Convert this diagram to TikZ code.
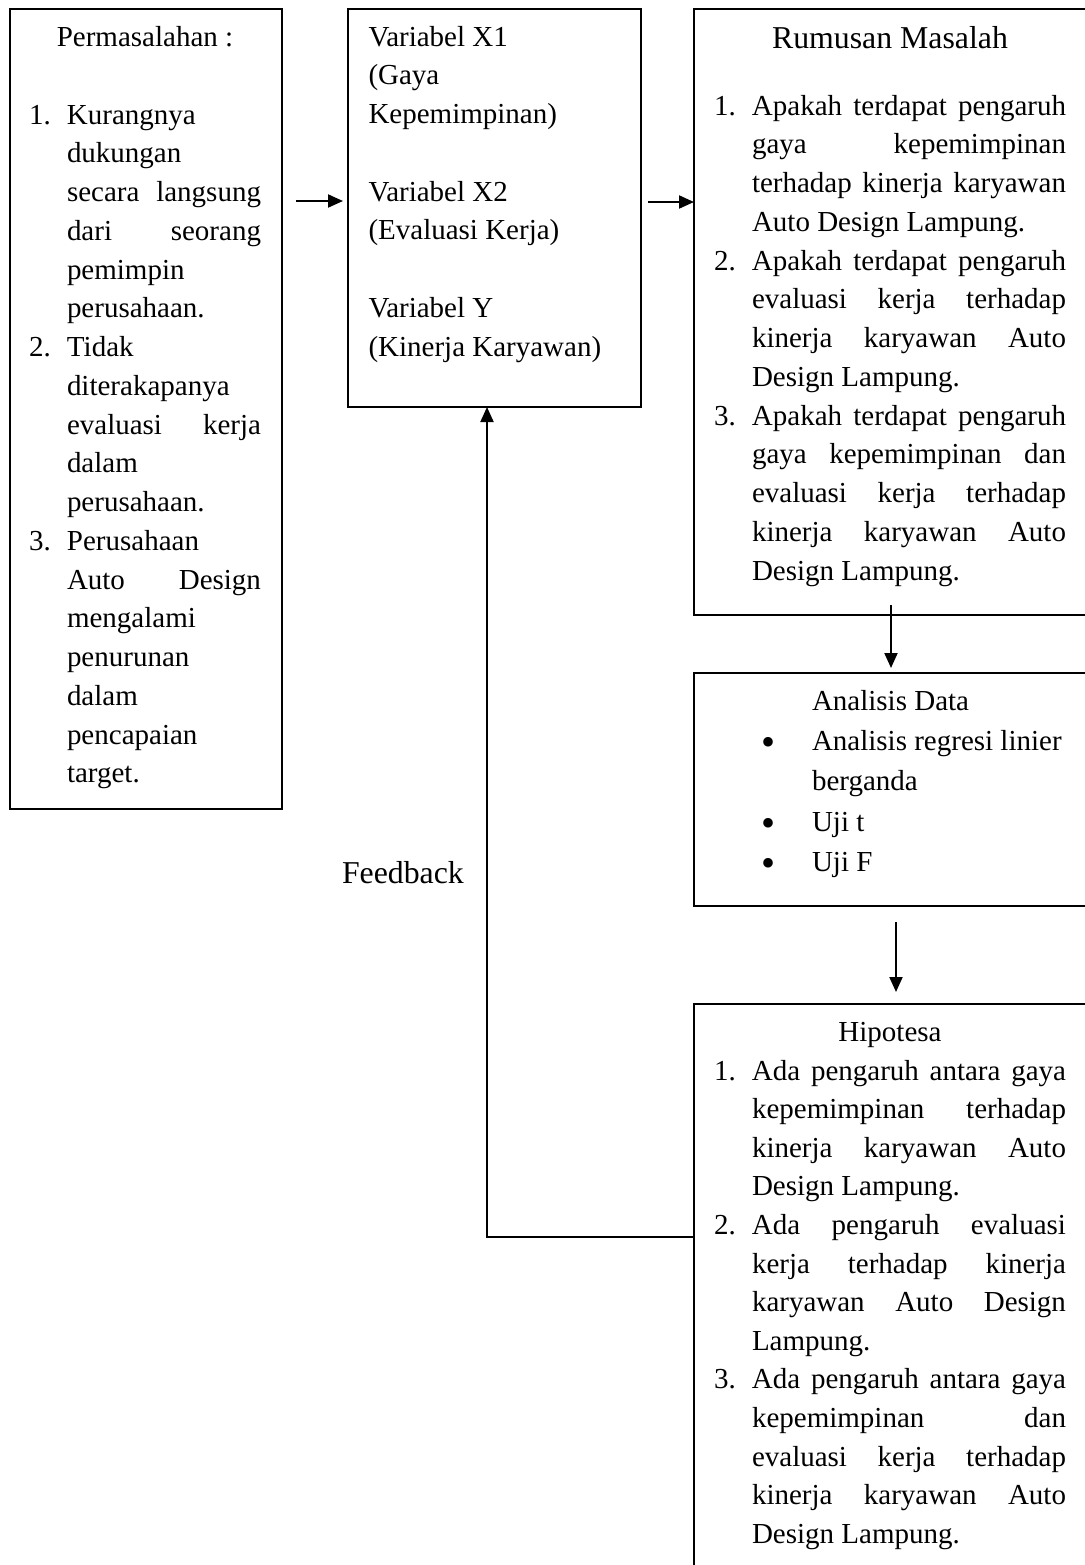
\documentclass[tikz,border=0pt]{standalone}
\usepackage{fontspec}
\setmainfont{Liberation Serif}
\usetikzlibrary{arrows.meta,fit}
\newlength\numw \setlength\numw{19pt}
\newlength\colw \setlength\colw{100pt}
\newcommand\fsz{\fontsize{14.5pt}{19.38pt}\selectfont}
\newcommand\fbig{\fontsize{15.9pt}{20pt}\selectfont}
\newcommand\setbs[1]{\baselineskip=#1\lineskiplimit=-\maxdimen\lineskip=0pt}
\newcommand\nm[1]{\llap{\hbox to \numw{#1\hss}}}
\newcommand\lft[1]{\hbox to \colw{#1\hfil}}
\newcommand\jst[1]{\hbox to \colw{#1}}
\newcommand\bul{\llap{\hbox to 44pt{\hss\raisebox{-2.5pt}{\fontsize{20pt}{20pt}\selectfont •}\hss}}}
\begin{document}
\begin{tikzpicture}[x=0.5pt,y=-0.5pt,
  box/.style={draw, line width=1pt, inner sep=0pt, outer sep=0pt},
  txt/.style={anchor=base west, inner sep=0pt, outer sep=0pt, font=\fsz},
  ttl/.style={anchor=base, inner sep=0pt, outer sep=0pt, font=\fsz},
  arr/.style={line width=1pt, -{Triangle[length=7.5pt,width=6.5pt]}}]
\useasboundingbox (0,0) rectangle (1085,1565);
\clip (0,0) rectangle (1085,1565);
\fill[white] (0,0) rectangle (1085,1565);

% boxes
\node[box, fit={(10,9)(282,809)}] (perm) {};
\node[box, fit={(348,9)(641,407)}] (var) {};
\node[box, fit={(694,9)(1100,615)}] (rum) {};
\node[box, fit={(694,673)(1100,906)}] (ana) {};
\node[box, fit={(694,1004)(1100,1620)}] (hip) {};

% Permasalahan
\node[ttl] (permT) at (145,46) {Permasalahan :};
\node[txt] (permL) at (67,124) {\setlength\colw{97pt}\vtop{\setbs{19.38pt}
  \lft{\nm{1.}Kurangnya}
  \lft{dukungan}
  \jst{secara\hfill langsung}
  \jst{dari\hfill seorang}
  \lft{pemimpin}
  \lft{perusahaan.}
  \lft{\nm{2.}Tidak}
  \lft{diterakapanya}
  \jst{evaluasi\hfill kerja}
  \lft{dalam}
  \lft{perusahaan.}
  \lft{\nm{3.}Perusahaan}
  \jst{Auto\hfill Design}
  \lft{mengalami}
  \lft{penurunan}
  \lft{dalam}
  \lft{pencapaian}
  \lft{target.}}};

% Variabel
\node[txt] (varL) at (368.5,46) {\setlength\colw{130pt}\vtop{\setbs{19.38pt}
  \lft{Variabel X1}
  \lft{(Gaya}
  \lft{Kepemimpinan)}
  \hbox{}
  \lft{Variabel X2}
  \lft{(Evaluasi Kerja)}
  \hbox{}
  \lft{Variabel Y}
  \lft{(Kinerja Karyawan)}}};

% Rumusan Masalah
\node[ttl, font=\fbig] (rumT) at (890,48) {Rumusan Masalah};
\node[txt] (rumL) at (752,115) {\setlength\colw{157pt}\vtop{\setbs{19.38pt}
  \jst{\nm{1.}Apakah\hfill terdapat\hfill pengaruh}
  \jst{gaya\hfill kepemimpinan}
  \jst{terhadap\hfill kinerja\hfill karyawan}
  \lft{Auto Design Lampung.}
  \jst{\nm{2.}Apakah\hfill terdapat\hfill pengaruh}
  \jst{evaluasi\hfill kerja\hfill terhadap}
  \jst{kinerja\hfill karyawan\hfill Auto}
  \lft{Design Lampung.}
  \jst{\nm{3.}Apakah\hfill terdapat\hfill pengaruh}
  \jst{gaya\hfill kepemimpinan\hfill dan}
  \jst{evaluasi\hfill kerja\hfill terhadap}
  \jst{kinerja\hfill karyawan\hfill Auto}
  \lft{Design Lampung.}}};

% Analisis Data
\node[txt] (anaL) at (812,710) {\setlength\colw{130pt}\vtop{\setbs{20.2pt}
  \lft{Analisis Data}
  \lft{\bul Analisis regresi linier}
  \lft{berganda}
  \lft{\bul Uji t}
  \lft{\bul Uji F}}};

% Hipotesa
\node[ttl] (hipT) at (890,1041) {Hipotesa};
\node[txt] (hipL) at (752,1080) {\setlength\colw{157pt}\vtop{\setbs{19.3pt}
  \jst{\nm{1.}Ada\hfill pengaruh\hfill antara\hfill gaya}
  \jst{kepemimpinan\hfill terhadap}
  \jst{kinerja\hfill karyawan\hfill Auto}
  \lft{Design Lampung.}
  \jst{\nm{2.}Ada\hfill pengaruh\hfill evaluasi}
  \jst{kerja\hfill terhadap\hfill kinerja}
  \jst{karyawan\hfill Auto\hfill Design}
  \lft{Lampung.}
  \jst{\nm{3.}Ada\hfill pengaruh\hfill antara\hfill gaya}
  \jst{kepemimpinan\hfill dan}
  \jst{evaluasi\hfill kerja\hfill terhadap}
  \jst{kinerja\hfill karyawan\hfill Auto}
  \lft{Design Lampung.}}};

% Feedback label
\node[txt, font=\fbig] (fbT) at (342,883) {Feedback};

% connectors
\coordinate (c1) at (0,201);
\coordinate (c2) at (0,202);
\coordinate (c3) at (891,0);
\coordinate (c4) at (896,0);
\coordinate (fb) at (487,1237);
\draw[arr, shorten <=7pt, shorten >=2.5pt] (perm.east |- c1) -- (var.west |- c1);
\draw[arr, shorten <=3.5pt] (var.east |- c2) -- (rum.west |- c2);
\draw[arr, shorten <=-5pt, shorten >=2.5pt] (rum.south -| c3) -- (ana.north -| c3);
\draw[arr, shorten <=8pt, shorten >=6pt] (ana.south -| c4) -- (hip.north -| c4);
\draw[arr] (hip.west |- fb) -| (var.south -| fb);
\end{tikzpicture}
\end{document}
